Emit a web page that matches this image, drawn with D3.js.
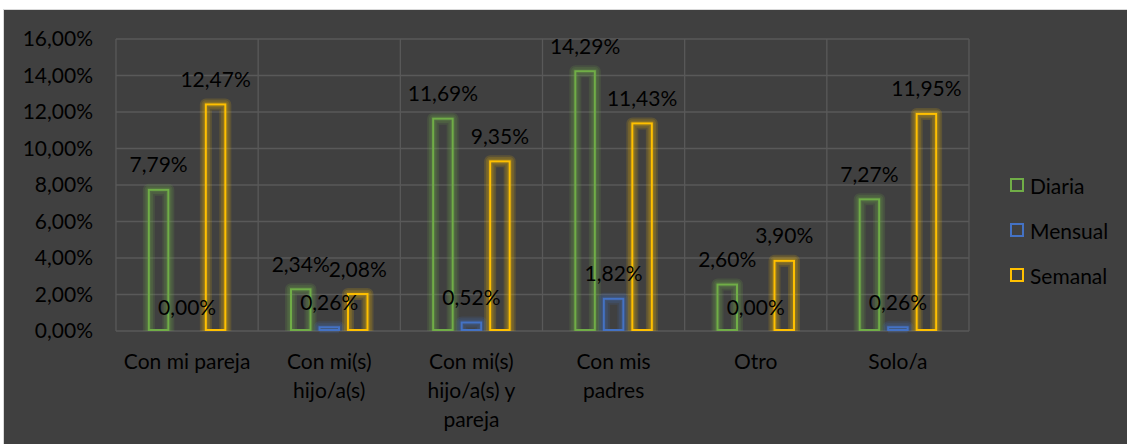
<!DOCTYPE html>
<html>
<head>
<meta charset="utf-8">
<script src="https://cdn.jsdelivr.net/npm/d3@7"></script>
<style>
  html, body { margin: 0; padding: 0; background: #ffffff; }
  svg { display: block; }
  text { font-family: Lato, "Open Sans", sans-serif; fill: #000000; }
</style>
</head>
<body>
<svg id="chart" width="1127" height="444"></svg>
<script>
// Living arrangement categories (x axis)
const categories = [
  ["Con mi pareja"],
  ["Con mi(s)", "hijo/a(s)"],
  ["Con mi(s)", "hijo/a(s) y", "pareja"],
  ["Con mis", "padres"],
  ["Otro"],
  ["Solo/a"]
];
const seriesNames = ["Diaria", "Mensual", "Semanal"];
const seriesColors = ["#70AD47", "#4472C4", "#FFC000"];

// Percentages per series, one value per category
const diaria  = [7.79, 2.34, 11.69, 14.29, 2.60, 7.27];
const mensual = [0.00, 0.26, 0.52, 1.82, 0.00, 0.26];
const semanal = [12.47, 2.08, 9.35, 11.43, 3.90, 11.95];

const yTicks = [0, 2, 4, 6, 8, 10, 12, 14, 16];

const seriesValues = [diaria, mensual, semanal];
const fmt = v => v.toFixed(2).replace(".", ",") + "%";
const FS = 21;

const svg = d3.select("#chart");

// Chart frame
svg.append("rect")
  .attr("x", 3.5).attr("y", 9.5)
  .attr("width", 1130).attr("height", 440)
  .attr("fill", "#404040")
  .attr("stroke", "#d9d9d9").attr("stroke-width", 1);

const plot = { left: 116, right: 969, top: 39, bottom: 331 };

const y = d3.scaleLinear().domain([0, 16]).range([plot.bottom, plot.top]);
const x0 = d3.scaleBand()
  .domain(d3.range(categories.length))
  .range([plot.left, plot.right])
  .padding(0);
const cw = x0.bandwidth();
const x1 = d3.scaleBand()
  .domain(d3.range(seriesNames.length))
  .range([cw / 2 - 39.25, cw / 2 + 39.25])
  .paddingInner(0.2456)
  .paddingOuter(0);

// Gridlines
const grid = svg.append("g").attr("stroke", "#595959").attr("stroke-width", 1.3);
grid.selectAll("line.h").data(yTicks).join("line")
  .attr("x1", plot.left).attr("x2", plot.right)
  .attr("y1", d => y(d)).attr("y2", d => y(d));
grid.selectAll("line.v").data(d3.range(categories.length + 1)).join("line")
  .attr("x1", d => plot.left + d * cw).attr("x2", d => plot.left + d * cw)
  .attr("y1", plot.top).attr("y2", plot.bottom);

// Y axis labels
const yAxis = d3.axisLeft(y).tickValues(yTicks).tickSize(0).tickPadding(0)
  .tickFormat(d => d.toFixed(2).replace(".", ",") + "%");
const ya = svg.append("g").attr("transform", `translate(93,0)`).call(yAxis);
ya.select(".domain").remove();
ya.selectAll("text").attr("font-size", FS).attr("fill", "#000")
  .style("font-family", "Lato, 'Open Sans', sans-serif");

// Bars: layered translucent strokes form a soft halo, then the crisp outline
const rows = [];
categories.forEach((c, ci) => {
  seriesValues.forEach((vals, si) => rows.push({ ci, si, v: vals[ci] }));
});
const bw = x1.bandwidth();
const visible = rows.filter(d => d.v > 0);

const barX = d => x0(d.ci) + x1(d.si) + 1;
const barY = d => y(d.v) + 1;
const barH = d => Math.max(0, y(0) - y(d.v) - 2);

const barsG = svg.append("g");
const haloLayers = [12, 8.5, 5];
haloLayers.forEach(w => {
  // halo band, cut off at the baseline
  barsG.append("g")
    .selectAll("path").data(visible).join("path")
    .attr("d", d => {
      const x = barX(d), yy = barY(d), ww = bw - 2;
      return `M${x},${y(0)}V${yy}H${x + ww}V${y(0)}`;
    })
    .attr("fill", "none")
    .attr("stroke", d => seriesColors[d.si])
    .attr("stroke-width", w)
    .attr("stroke-linejoin", "round")
    .attr("stroke-opacity", 0.15);
});

barsG.append("g")
  .selectAll("rect").data(visible).join("rect")
  .attr("x", barX).attr("y", barY)
  .attr("width", bw - 2).attr("height", barH)
  .attr("fill", "none")
  .attr("stroke", d => seriesColors[d.si])
  .attr("stroke-width", 2);

// Value labels
svg.append("g").selectAll("text").data(rows).join("text")
  .attr("x", d => x0(d.ci) + x1(d.si) + bw / 2)
  .attr("y", d => y(d.v) - 25)
  .attr("text-anchor", "middle")
  .attr("dominant-baseline", "central")
  .attr("font-size", FS)
  .text(d => fmt(d.v));

// Category labels
const xl = svg.append("g").selectAll("text").data(categories).join("text")
  .attr("x", (d, i) => x0(i) + cw / 2)
  .attr("y", 362)
  .attr("text-anchor", "middle")
  .attr("font-size", FS);
xl.selectAll("tspan").data(d => d).join("tspan")
  .attr("x", function () { return d3.select(this.parentNode).attr("x"); })
  .attr("dy", (d, i) => i === 0 ? "0.35em" : 29)
  .text(d => d);

// Legend
const lg = svg.append("g").selectAll("g").data(seriesNames).join("g")
  .attr("transform", (d, i) => `translate(1010, ${185 + i * 45})`);
lg.append("rect")
  .attr("x", 1).attr("y", -6).attr("width", 12).attr("height", 12)
  .attr("fill", "none")
  .attr("stroke", (d, i) => seriesColors[i]).attr("stroke-width", 2);
lg.append("text")
  .attr("x", 20).attr("y", 0)
  .attr("dominant-baseline", "central")
  .attr("font-size", FS)
  .text(d => d);
</script>
</body>
</html>
